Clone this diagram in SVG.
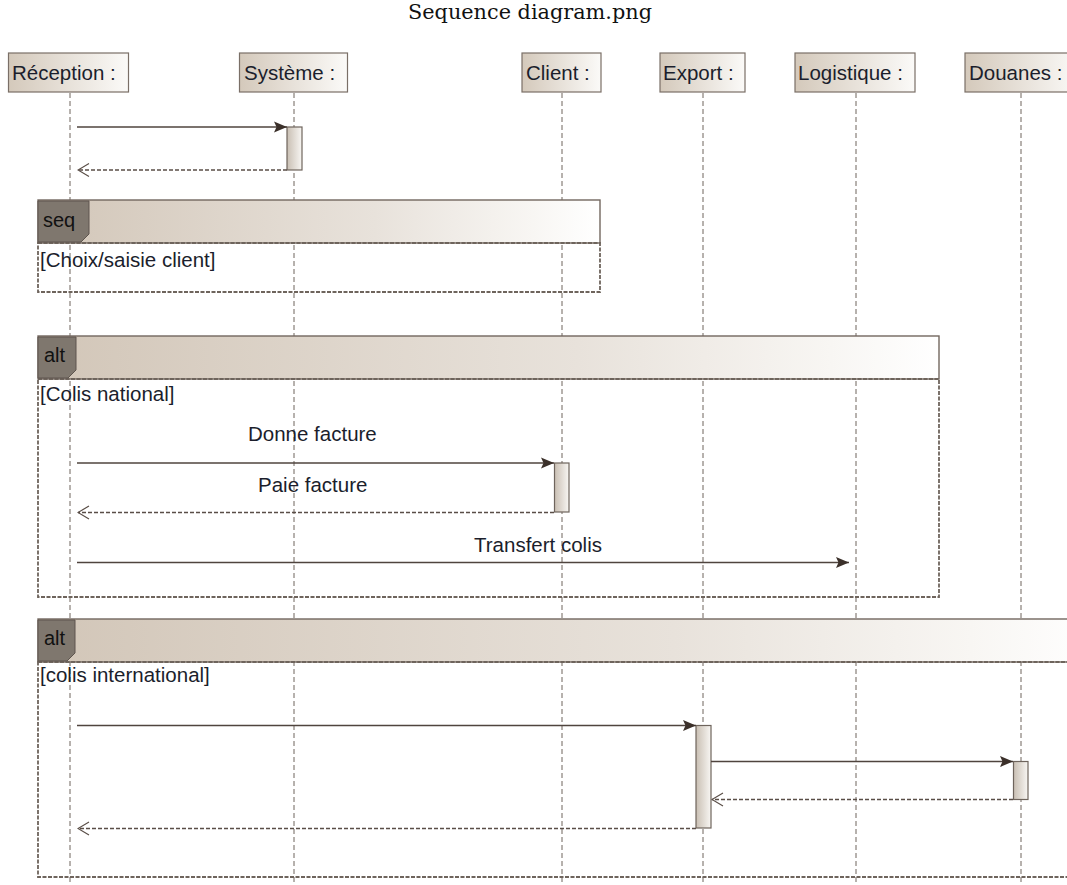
<svg xmlns="http://www.w3.org/2000/svg" width="1067" height="885" viewBox="0 0 1067 885">
<style>
.lbl{font-family:"Liberation Sans",Arial,sans-serif;font-size:20.5px;fill:#1b1e2c}
.tagt{font-family:"Liberation Sans",Arial,sans-serif;font-size:20px;fill:#111}
.head{stroke:#7a6f67;stroke-width:1.2;fill:url(#gHead)}
.life{stroke:#6e645c;stroke-width:1;stroke-dasharray:5,3;fill:none}
.act{stroke:#6e645c;stroke-width:1.2;fill:url(#gAct)}
.fhdr{stroke:#72675f;stroke-width:1.4}
.fbody{stroke:#6e645c;stroke-width:1.8;stroke-dasharray:4,1.5;fill:none}
.tag{fill:#7f776e;stroke:#5e554e;stroke-width:1}
.msg{stroke:#4f443e;stroke-width:1.6;fill:none}
.ret{stroke:#5a4e47;stroke-width:1.3;stroke-dasharray:4,2;fill:none}
</style>
<defs>
<linearGradient id="gHead" x1="0" y1="0" x2="1" y2="0">
<stop offset="0" stop-color="#d4c9bb"/><stop offset="1" stop-color="#fbfaf8"/>
</linearGradient>
<linearGradient id="gAct" x1="0" y1="0" x2="1" y2="0">
<stop offset="0" stop-color="#c9bfb3"/><stop offset="1" stop-color="#f8f6f3"/>
</linearGradient>
<linearGradient id="gFrag" x1="0" y1="0" x2="1" y2="0">
<stop offset="0" stop-color="#d2c6b8"/><stop offset="0.6" stop-color="#e8e2db"/><stop offset="0.88" stop-color="#f8f6f3"/><stop offset="1" stop-color="#ffffff"/>
</linearGradient>
<marker id="mFill" markerWidth="16" markerHeight="14" refX="14" refY="7" orient="auto" markerUnits="userSpaceOnUse">
<path d="M1,1.5 L14,7 L1,12.5 L3.5,7 z" fill="#3b302a"/>
</marker>
<marker id="mOpen" markerWidth="13" markerHeight="16" refX="12" refY="8" orient="auto" markerUnits="userSpaceOnUse">
<path d="M1,1.5 L12,8 L1,14.5" fill="none" stroke="#5a4e47" stroke-width="1.2"/>
</marker>
</defs>
<rect x="0" y="0" width="1067" height="885" fill="#ffffff"/>
<text x="408" y="19" font-family="'DejaVu Serif','Liberation Serif',serif" font-size="20" textLength="244" lengthAdjust="spacingAndGlyphs" fill="#111">Sequence diagram.png</text>

<g id="lifelines">
<line class="life" x1="70" y1="93" x2="70" y2="885"/>
<line class="life" x1="294" y1="93" x2="294" y2="885"/>
<line class="life" x1="562" y1="93" x2="562" y2="885"/>
<line class="life" x1="703" y1="93" x2="703" y2="885"/>
<line class="life" x1="856" y1="93" x2="856" y2="885"/>
<line class="life" x1="1021" y1="93" x2="1021" y2="885"/>
</g>

<g id="reception"><rect class="head" x="8.5" y="53" width="120" height="39"/><text class="lbl" x="12" y="80">Réception :</text></g>
<g id="systeme"><rect class="head" x="239.5" y="53" width="108" height="39"/><text class="lbl" x="244" y="80">Système :</text></g>
<g id="client"><rect class="head" x="522" y="53" width="79" height="39"/><text class="lbl" x="526" y="80">Client :</text></g>
<g id="export"><rect class="head" x="660" y="53" width="85" height="39"/><text class="lbl" x="663" y="80">Export :</text></g>
<g id="logistique"><rect class="head" x="795" y="53" width="120" height="39"/><text class="lbl" x="798" y="80">Logistique :</text></g>
<g id="douanes"><rect class="head" x="965" y="53" width="115" height="39"/><text class="lbl" x="969" y="80">Douanes :</text></g>

<g id="frag-seq">
<rect class="fhdr" x="38" y="200" width="562" height="43" fill="url(#gFrag)"/>
<rect class="fbody" x="38" y="243" width="562" height="49"/>
<path class="tag" d="M38,201 L89,201 L89,234 L81,242 L38,242 z"/>
<text class="tagt" x="43" y="227">seq</text>
<text class="lbl" x="40" y="267">[Choix/saisie client]</text>
</g>

<g id="frag-alt1">
<rect class="fhdr" x="38" y="336" width="901" height="43" fill="url(#gFrag)"/>
<rect class="fbody" x="38" y="379" width="901" height="218"/>
<path class="tag" d="M38,337 L76,337 L76,370 L68,378 L38,378 z"/>
<text class="tagt" x="44" y="362">alt</text>
<text class="lbl" x="40" y="401">[Colis national]</text>
</g>

<g id="frag-alt2">
<rect class="fhdr" x="38" y="619" width="1060" height="43" fill="url(#gFrag)"/>
<rect class="fbody" x="38" y="662" width="1060" height="215"/>
<path class="tag" d="M38,620 L75,620 L75,653 L67,661 L38,661 z"/>
<text class="tagt" x="44" y="645">alt</text>
<text class="lbl" x="40" y="682">[colis international]</text>
</g>

<g id="activations">
<rect class="act" x="287" y="127" width="15" height="43"/>
<rect class="act" x="554.5" y="463" width="14.5" height="49"/>
<rect class="act" x="696" y="725.5" width="15" height="102.5"/>
<rect class="act" x="1013.5" y="761.5" width="14.5" height="38"/>
</g>

<g id="connectors">
<line class="msg" x1="77" y1="127" x2="287" y2="127" marker-end="url(#mFill)"/>
<line class="ret" x1="287" y1="170" x2="78" y2="170" marker-end="url(#mOpen)"/>
<line class="msg" x1="77" y1="463" x2="554" y2="463" marker-end="url(#mFill)"/>
<text class="lbl" x="248" y="441">Donne facture</text>
<line class="ret" x1="554" y1="512.5" x2="78" y2="512.5" marker-end="url(#mOpen)"/>
<text class="lbl" x="258" y="492">Paie facture</text>
<line class="msg" x1="77" y1="562.5" x2="849" y2="562.5" marker-end="url(#mFill)"/>
<text class="lbl" x="474" y="552">Transfert colis</text>
<line class="msg" x1="77" y1="725.5" x2="696" y2="725.5" marker-end="url(#mFill)"/>
<line class="msg" x1="711" y1="761.5" x2="1013" y2="761.5" marker-end="url(#mFill)"/>
<line class="ret" x1="1013" y1="799.5" x2="712" y2="799.5" marker-end="url(#mOpen)"/>
<line class="ret" x1="696" y1="828.5" x2="78" y2="828.5" marker-end="url(#mOpen)"/>
</g>
</svg>
